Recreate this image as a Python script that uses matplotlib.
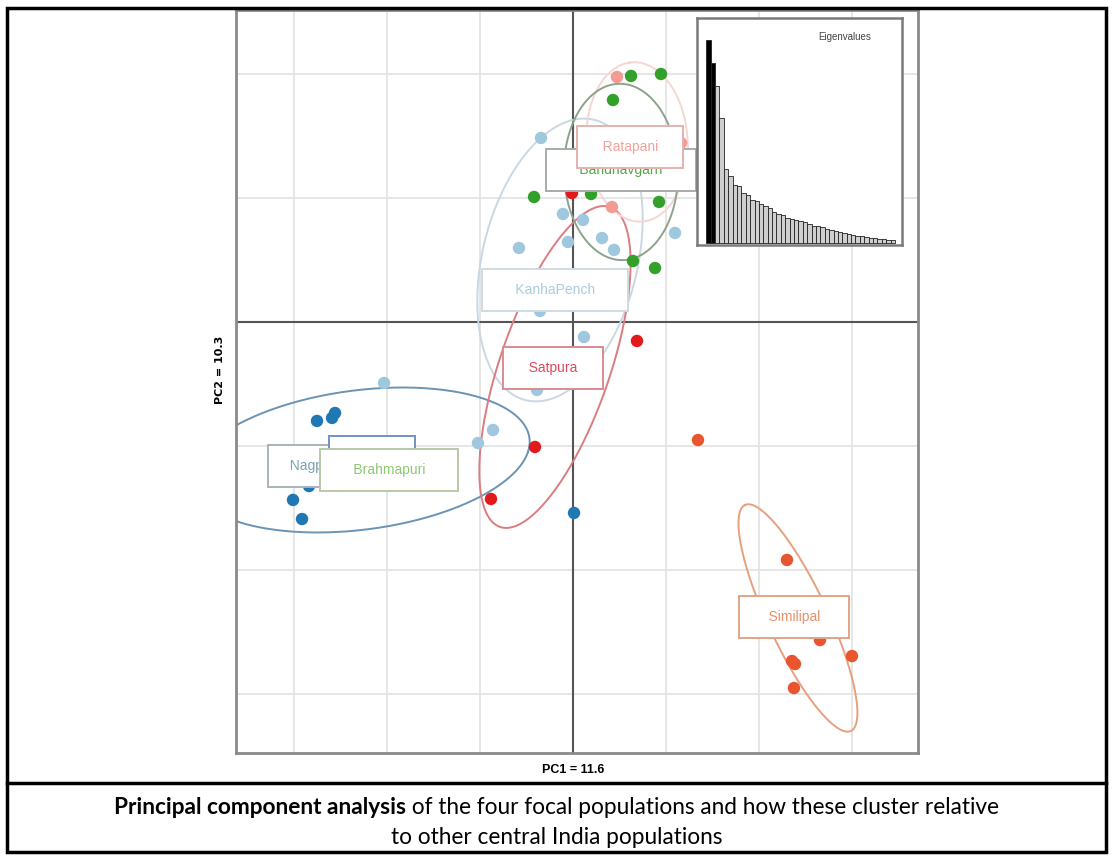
import matplotlib
matplotlib.use('Agg')
import matplotlib.pyplot as plt
import numpy as np
from matplotlib import font_manager
from matplotlib.patches import Rectangle
from matplotlib.lines import Line2D

W, H = 1113, 860

installed = {f.name for f in font_manager.fontManager.ttflist}
narrow = 'Liberation Sans Narrow' if 'Liberation Sans Narrow' in installed else 'Liberation Sans'
capfont = 'Lato' if 'Lato' in installed else 'DejaVu Sans'

# --- individual scores (PC1, PC2) ---
nagpur_x = [-2.753, -2.591, -2.559, -2.839, -3.011, -2.914, 0.011]
nagpur_y = [-0.798, -0.774, -0.734, -1.323, -1.435, -1.589, -1.540]
kanha_x = [-0.344, -0.108, 0.108, -0.581, -0.054, 0.312, 0.441, 1.097,
           -0.355, 0.118, -0.387, -0.860, -1.022, -2.032]
kanha_y = [1.484, 0.871, 0.823, 0.597, 0.645, 0.677, 0.581, 0.718,
           0.089, -0.121, -0.548, -0.871, -0.976, -0.492]
satpura_x = [0.688, -0.409, -0.882, -0.011]
satpura_y = [-0.153, -1.008, -1.427, 1.040]
ratapani_x = [0.473, 1.161, 0.419]
ratapani_y = [1.976, 1.444, 0.927]
bandhav_x = [0.624, 0.946, 0.430, -0.419, 0.194, 0.925, 0.645, 0.882]
bandhav_y = [1.984, 2.000, 1.790, 1.008, 1.032, 0.968, 0.492, 0.435]
simil_x = [2.301, 2.656, 3.000, 2.355, 2.387, 2.376, 1.344]
simil_y = [-1.919, -2.565, -2.694, -2.734, -2.758, -2.952, -0.952]

point_sets = [
    (nagpur_x, nagpur_y, '#1f78b4'),
    (kanha_x, kanha_y, '#9fc8df'),
    (satpura_x, satpura_y, '#e31a1c'),
    (ratapani_x, ratapani_y, '#f49a94'),
    (bandhav_x, bandhav_y, '#33a02c'),
    (simil_x, simil_y, '#e8552e'),
]

# --- group ellipses: centre and two conjugate half-axes (data units) ---
ell_center = [(-2.290, -1.113), (-0.140, 0.500), (-0.194, -0.363),
              (0.688, 1.452), (0.516, 1.210), (2.419, -2.387)]
ell_u = [(1.806, 0.065), (0.376, 1.129), (0.591, 1.290),
         (-0.080, 0.640), (0.022, 0.710), (-0.570, 0.911)]
ell_v = [(0.258, 0.581), (0.806, -0.161), (0.559, -0.145),
         (0.540, 0.060), (0.613, -0.040), (0.290, 0.105)]
ell_color = ['#6a93b4', '#c9d8e2', '#dc7c80', '#f5d6d3', '#8ea38c', '#e6a07f']

# --- group labels (drawn in this order) ---
lab_text = ['Nagpur', '', 'Brahmapuri', 'KanhaPench', 'Satpura',
            'Bandhavgarh', 'Ratapani', 'Similipal']
lab_x = [-2.806, -2.161, -1.978, -0.194, -0.215, 0.516, 0.613, 2.376]
lab_y = [-1.161, -1.032, -1.194, 0.258, -0.371, 1.226, 1.411, -2.379]
lab_color = ['#7aa2b0', '#1f78b4', '#8cc873', '#a9cde0', '#e04a5a',
             '#4caa40', '#f2a29a', '#e8906a']
lab_edge = ['#a9b2b8', '#6f93c4', '#b7c9aa', '#cfdbe2', '#d98c94',
            '#a6aca6', '#e6b2ae', '#e2a486']

# --- eigenvalues (relative heights) ---
eig = [6.08, 5.40, 4.70, 3.75, 2.22, 2.00, 1.75, 1.70, 1.50, 1.43,
       1.28, 1.25, 1.18, 1.10, 1.05, 0.92, 0.88, 0.85, 0.75, 0.72,
       0.68, 0.65, 0.62, 0.58, 0.52, 0.50, 0.47, 0.42, 0.40, 0.35,
       0.33, 0.30, 0.27, 0.25, 0.22, 0.20, 0.18, 0.16, 0.14, 0.13,
       0.11, 0.10, 0.08]

fig = plt.figure(figsize=(W / 100, H / 100), dpi=100)

ax = fig.add_axes([236 / W, 1 - 753 / H, 682 / W, 743 / H])
ax.set_xlim(-3.624, 3.710)
ax.set_ylim(-3.476, 2.516)
ax.set_xticks([])
ax.set_yticks([])
for s in ax.spines.values():
    s.set_color('#8a8a8a')
    s.set_linewidth(2)

for g in range(-3, 4):
    ax.axvline(g, color='#e4e4e4', lw=1.3, zorder=0)
for g in range(-3, 3):
    ax.axhline(g, color='#e4e4e4', lw=1.3, zorder=0)
ax.axvline(0, color='#555555', lw=1.5, zorder=1)
ax.axhline(0, color='#555555', lw=1.5, zorder=1)

t = np.linspace(0, 2 * np.pi, 300)
for (cx, cy), (ux, uy), (vx, vy), c in zip(ell_center, ell_u, ell_v, ell_color):
    ax.plot(cx + ux * np.cos(t) + vx * np.sin(t),
            cy + uy * np.cos(t) + vy * np.sin(t),
            color=c, lw=1.4, zorder=2)

for xs, ys, c in point_sets:
    ax.scatter(xs, ys, s=80, color=c, edgecolors='none', zorder=3)

for i, (txt, x, y, tc, ec) in enumerate(zip(lab_text, lab_x, lab_y, lab_color, lab_edge)):
    if txt:
        n = max(2, round(len(txt) * 0.55) - 1)
        s = ' ' * n + txt + ' ' * n
        ax.text(x, y, s, ha='center', va='center', fontsize=10, family=narrow,
                color=tc, zorder=5 + i,
                bbox=dict(boxstyle='square,pad=1.0', fc='white', ec=ec, lw=1.4))
    else:
        ax.text(x, y, ' ' * 22, ha='center', va='center', fontsize=7,
                family='DejaVu Sans', zorder=5 + i,
                bbox=dict(boxstyle='square,pad=0.9', fc='white', ec=ec, lw=1.4))

# eigenvalue inset
axin = fig.add_axes([697 / W, 1 - 245 / H, 205 / W, 227 / H])
xs = np.arange(len(eig))
cols = ['black', 'black'] + ['#cfcfcf'] * (len(eig) - 2)
axin.bar(xs, eig, width=1.0, color=cols, edgecolor='#222222', linewidth=0.6)
axin.set_xlim(-2.6, len(eig) - 0.5 + 1.6)
axin.set_ylim(-0.06, 6.75)
axin.set_xticks([])
axin.set_yticks([])
for s in axin.spines.values():
    s.set_color('#7a7a7a')
    s.set_linewidth(1.8)
axin.text(0.72, 0.915, 'Eigenvalues', transform=axin.transAxes, ha='center',
          va='center', fontsize=7, family=narrow, color='#444444')

# axis titles
fig.text(573 / W, 1 - 770 / H, 'PC1 = 11.6', ha='center', va='center',
         fontsize=9, fontweight='bold', family=narrow)
fig.text(220 / W, 1 - 370 / H, 'PC2 = 10.3', ha='center', va='center',
         fontsize=8, fontweight='bold', rotation=90)

# outer frame and caption separator
fig.add_artist(Rectangle((7 / W, 1 - 852 / H), 1099 / W, 844 / H,
                         transform=fig.transFigure, fill=False, lw=2.5,
                         ec='black'))
fig.add_artist(Line2D([7 / W, 1106 / W], [1 - 783 / H, 1 - 783 / H],
                      transform=fig.transFigure, color='black', lw=2.5))

# caption: bold lead-in then regular text, centred as one line
r = fig.canvas.get_renderer()
cy1 = 1 - 808 / H
cap_fs = 16.3
t1 = fig.text(0, cy1, 'Principal component analysis', fontsize=cap_fs,
              fontweight='bold', family=capfont, va='center')
t2 = fig.text(0, cy1, ' of the four focal populations and how these cluster relative',
              fontsize=cap_fs, family=capfont, va='center')
w1 = t1.get_window_extent(r).width
w2 = t2.get_window_extent(r).width
x0 = 556.5 - (w1 + w2) / 2
t1.set_x(x0 / W)
t2.set_x((x0 + w1) / W)
fig.text(556.5 / W, 1 - 838 / H, 'to other central India populations',
         fontsize=cap_fs, family=capfont, ha='center', va='center')

fig.savefig('out.png', dpi=100)
